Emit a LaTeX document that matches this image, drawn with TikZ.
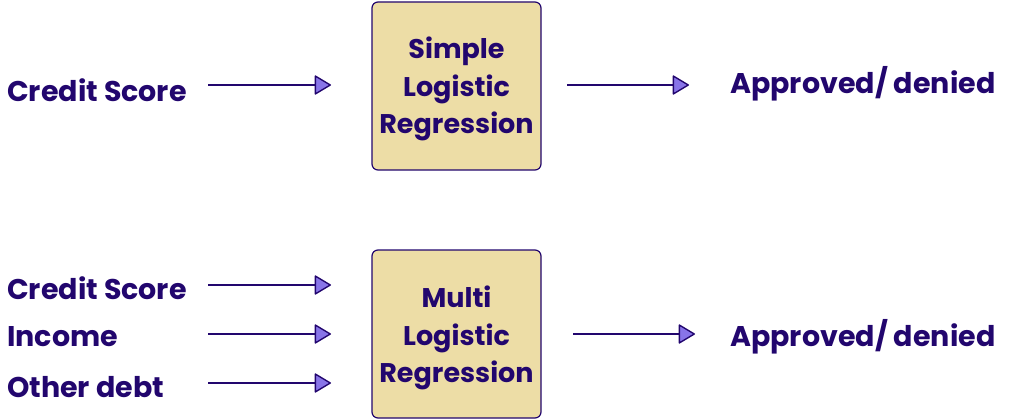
\documentclass[tikz,border=0pt]{standalone}
\usepackage{fontspec}
\setmainfont{Poppins}
\usetikzlibrary{arrows.meta}
\definecolor{ink}{RGB}{34,6,110}
\definecolor{boxfill}{RGB}{237,221,166}
\definecolor{tipfill}{RGB}{136,116,232}
\begin{document}
\begin{tikzpicture}[x=1pt,y=-1pt,
  lbl/.style={font=\fontsize{28.5}{34}\selectfont\bfseries, text=ink, inner sep=0pt},
  lblL/.style={lbl, anchor=west},
  model/.style={draw=ink, line width=1.2pt, fill=boxfill, rounded corners=6pt,
    minimum width=169pt, minimum height=168pt},
  modeltext/.style={font=\fontsize{27}{37.5}\selectfont\bfseries, text=ink,
    align=center, inner sep=0pt},
  flow/.style={draw=ink, line width=2.8pt,
    -{Triangle[length=17pt,width=20pt,fill=tipfill,line width=1.4pt,round]}},
]
\useasboundingbox (0,0) rectangle (1010,420);
% boxes
\node[model] (m1) at (456.5,86) {};
\node[model] (m2) at (456.5,334) {};
\node[modeltext] (t1) at (456.5,89) {Simple\\Logistic\\Regression};
\node[modeltext] (t2) at (456.5,338) {Multi\\Logistic\\Regression};
% labels
\node[lblL] (cs1) at (7,90) {Credit Score};
\node[lblL] (out1) at (730,84) {Approved/ denied};
\node[lblL] (cs2) at (7,288) {Credit Score};
\node[lblL] (inc) at (7,337) {Income};
\node[lblL] (debt) at (7,387) {Other debt};
\node[lblL] (out2) at (730,337) {Approved/ denied};
% arrow ends
\coordinate (a1s) at (208,85);  \coordinate (a1e) at (331,85);
\coordinate (b1s) at (567,85);  \coordinate (b1e) at (689,85);
\coordinate (a2s) at (208,285); \coordinate (a2e) at (331,285);
\coordinate (a3s) at (208,334); \coordinate (a3e) at (331,334);
\coordinate (a4s) at (208,383); \coordinate (a4e) at (331,383);
\coordinate (b2s) at (573,334); \coordinate (b2e) at (695,334);
\draw[flow] (a1s) -- (a1e);
\draw[flow] (b1s) -- (b1e);
\draw[flow] (a2s) -- (a2e);
\draw[flow] (a3s) -- (a3e);
\draw[flow] (a4s) -- (a4e);
\draw[flow] (b2s) -- (b2e);
\end{tikzpicture}
\end{document}
